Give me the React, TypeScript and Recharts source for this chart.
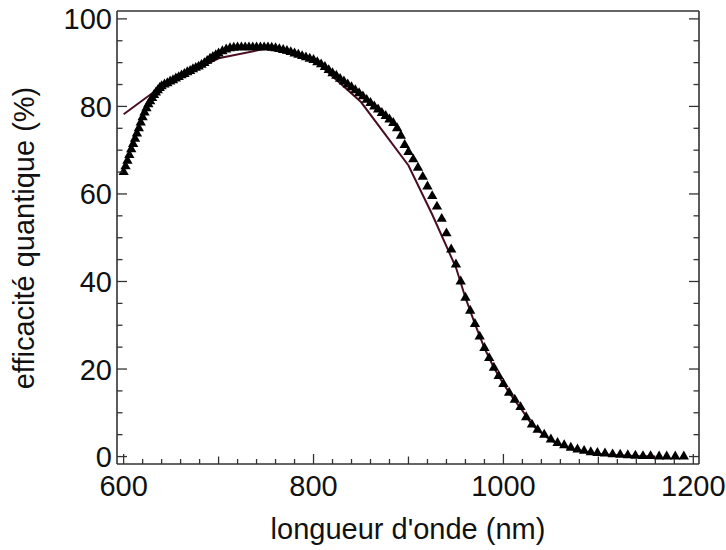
import React from 'react';
import { ComposedChart, Scatter, Line, XAxis, YAxis, ZAxis } from 'recharts';

// measured points (triangles)
const triWavelength = [
  600, 602, 604, 606, 608, 610, 612, 614, 616, 618, 620, 622, 624, 626, 628, 630, 632, 634, 636, 638,
  640, 643, 646, 649, 652, 655, 658, 661, 664, 667, 670, 673, 676, 679, 682, 685, 688, 691, 694, 697,
  700, 704, 708, 712, 716, 720, 724, 728, 732, 736, 740, 744, 748, 752, 756, 760, 764, 768, 772, 776, 780, 784, 788, 792, 796,
  800, 804, 808, 812, 816, 820, 824, 828, 832, 836, 840, 844, 848, 852, 856, 860, 864, 868, 872, 876, 880, 884, 888, 892, 896,
  900, 905, 910, 915, 920, 925, 930, 935, 940, 945, 950, 955, 960, 965, 970, 975, 980, 985, 990, 995,
  1000, 1006, 1012, 1018, 1024, 1030, 1036, 1043, 1050, 1057, 1064, 1071, 1078, 1085, 1092, 1099, 1107, 1115, 1123, 1131, 1139, 1147, 1155, 1164, 1172, 1181, 1190,
];
const triEfficiency = [
  65.0, 66.3, 67.6, 68.9, 70.2, 71.4, 72.6, 73.8, 75.0, 76.3, 77.5, 78.6, 79.6, 80.5, 81.2, 81.9, 82.6, 83.2, 83.7, 84.2,
  84.6, 85.0, 85.3, 85.7, 86.0, 86.4, 86.7, 87.1, 87.4, 87.8, 88.1, 88.5, 88.8, 89.1, 89.5, 89.9, 90.4, 90.9, 91.3, 91.7,
  92.1, 92.6, 93.0, 93.3, 93.4, 93.5, 93.5, 93.5, 93.5, 93.5, 93.5, 93.5, 93.5, 93.5, 93.4, 93.3, 93.1, 92.9, 92.7, 92.4, 92.1, 91.8, 91.5, 91.2, 90.9,
  90.6, 90.1, 89.6, 89.0, 88.3, 87.6, 87.0, 86.3, 85.7, 85.0, 84.4, 83.7, 83.0, 82.3, 81.5, 80.8, 80.0, 79.3, 78.5, 77.8, 77.0, 76.2, 75.0, 73.3, 71.2,
  69.6, 67.9, 66.0, 63.9, 61.7, 59.5, 57.1, 54.3, 51.0, 47.3, 43.9, 40.0, 36.3, 33.3, 30.3, 27.4, 24.8, 22.5, 20.3, 18.4,
  16.6, 14.6, 13.0, 11.3, 9.0, 7.3, 6.1, 5.0, 3.9, 3.1, 2.6, 2.0, 1.6, 1.3, 1.0, 0.8, 0.7, 0.5, 0.4, 0.3, 0.2, 0.1, 0.1, 0.0, 0.0, 0.0, 0.0,
];

// model curve (line)
const lineWavelength = [600, 640, 700, 750, 800, 850, 900, 925, 950, 960, 970, 980, 990, 1000, 1010, 1020, 1030, 1040, 1050, 1060, 1070, 1080, 1090, 1100, 1120, 1140, 1160];
const lineEfficiency = [78.2, 84.6, 91.0, 93.2, 90.8, 81.0, 66.5, 55.3, 43.2, 36.3, 30.3, 24.8, 20.3, 16.6, 13.4, 10.5, 7.3, 5.4, 3.7, 2.6, 1.8, 1.3, 0.9, 0.6, 0.3, 0.1, 0.0];

const xMajorTicks = [600, 800, 1000, 1200];
const xTicks = [
  600, 620, 640, 660, 680, 700, 720, 740, 760, 780, 800, 820, 840, 860, 880, 900,
  920, 940, 960, 980, 1000, 1020, 1040, 1060, 1080, 1100, 1120, 1140, 1160, 1180, 1200,
];
const yMajorTicks = [0, 20, 40, 60, 80, 100];
const yTicks = [0, 5, 10, 15, 20, 25, 30, 35, 40, 45, 50, 55, 60, 65, 70, 75, 80, 85, 90, 95, 100];

const triData = triWavelength.map((nm, i) => ({ nm, qe: triEfficiency[i] }));
const lineData = lineWavelength.map((nm, i) => ({ nm, qe: lineEfficiency[i] }));

const AXIS = '#333';
const FONT = '"Liberation Sans", Arial, Helvetica, sans-serif';
const FS = 29;
const X_DOMAIN = [593, 1206];
const Y_DOMAIN = [-1.7, 101.8];

const xLen = (v: number) => (xMajorTicks.includes(v) ? 10 : v % 100 === 0 ? 7.5 : 5);
const yLen = (v: number) => (yMajorTicks.includes(v) ? 10 : 5.5);

const BottomTick = ({ x, y, payload }: any) => {
  const v = payload.value;
  return (
    <g>
      <line x1={x} x2={x} y1={y} y2={y - xLen(v)} stroke={AXIS} strokeWidth={1.3} />
      {xMajorTicks.includes(v) && (
        <text x={x} y={y + 32} textAnchor="middle" fontSize={FS} fontFamily={FONT} fill="#111">{v}</text>
      )}
    </g>
  );
};

const TopTick = ({ x, y, payload }: any) => (
  <line x1={x} x2={x} y1={y} y2={y + xLen(payload.value)} stroke={AXIS} strokeWidth={1.3} />
);

const LeftTick = ({ x, y, payload }: any) => {
  const v = payload.value;
  return (
    <g>
      <line x1={x} x2={x + yLen(v)} y1={y} y2={y} stroke={AXIS} strokeWidth={1.3} />
      {yMajorTicks.includes(v) && (
        <text x={x - 5} y={y + 10.5} textAnchor="end" fontSize={FS} fontFamily={FONT} fill="#111">{v}</text>
      )}
    </g>
  );
};

const RightTick = ({ x, y, payload }: any) => (
  <line x1={x} x2={x - yLen(payload.value)} y1={y} y2={y} stroke={AXIS} strokeWidth={1.3} />
);

export default function App() {
  return (
    <div style={{ position: 'absolute', left: 0, top: 0, width: 726, height: 550, background: '#fff' }}>
      <ComposedChart width={726} height={550} margin={{ top: 0, right: 0, bottom: 0, left: 0 }}>
        <XAxis
          dataKey="nm"
          type="number"
          domain={X_DOMAIN}
          ticks={xTicks}
          interval={0}
          allowDataOverflow
          height={86}
          tickSize={0}
          tickMargin={0}
          tickLine={false}
          tick={<BottomTick />}
          axisLine={{ stroke: AXIS, strokeWidth: 1.6 }}
          label={{
            content: () => (
              <text x={408} y={539} textAnchor="middle" fontSize={FS} fontFamily={FONT} fill="#111">
                longueur d'onde (nm)
              </text>
            ),
          }}
        />
        <XAxis
          xAxisId="top"
          orientation="top"
          type="number"
          domain={X_DOMAIN}
          ticks={xTicks}
          interval={0}
          allowDataOverflow
          height={11}
          tickSize={0}
          tickMargin={0}
          tickLine={false}
          tick={<TopTick />}
          axisLine={{ stroke: AXIS, strokeWidth: 1.6 }}
        />
        <YAxis
          dataKey="qe"
          type="number"
          domain={Y_DOMAIN}
          ticks={yTicks}
          interval={0}
          allowDataOverflow
          width={117}
          tickSize={0}
          tickMargin={0}
          tickLine={false}
          tick={<LeftTick />}
          axisLine={{ stroke: AXIS, strokeWidth: 1.6 }}
          label={{
            content: () => (
              <text
                transform="translate(34,238) rotate(-90)"
                textAnchor="middle"
                fontSize={FS}
                fontFamily={FONT}
                fill="#111"
              >
                efficacité quantique (%)
              </text>
            ),
          }}
        />
        <YAxis
          yAxisId="right"
          orientation="right"
          type="number"
          domain={Y_DOMAIN}
          ticks={yTicks}
          interval={0}
          allowDataOverflow
          width={27}
          tickSize={0}
          tickMargin={0}
          tickLine={false}
          tick={<RightTick />}
          axisLine={{ stroke: AXIS, strokeWidth: 1.6 }}
        />
        <ZAxis type="number" range={[46, 46]} />
        <Scatter data={triData} shape="triangle" fill="#000" isAnimationActive={false} />
        <Line
          data={lineData}
          dataKey="qe"
          type="linear"
          stroke="#4a0d24"
          strokeWidth={2}
          dot={false}
          isAnimationActive={false}
        />
      </ComposedChart>
    </div>
  );
}
